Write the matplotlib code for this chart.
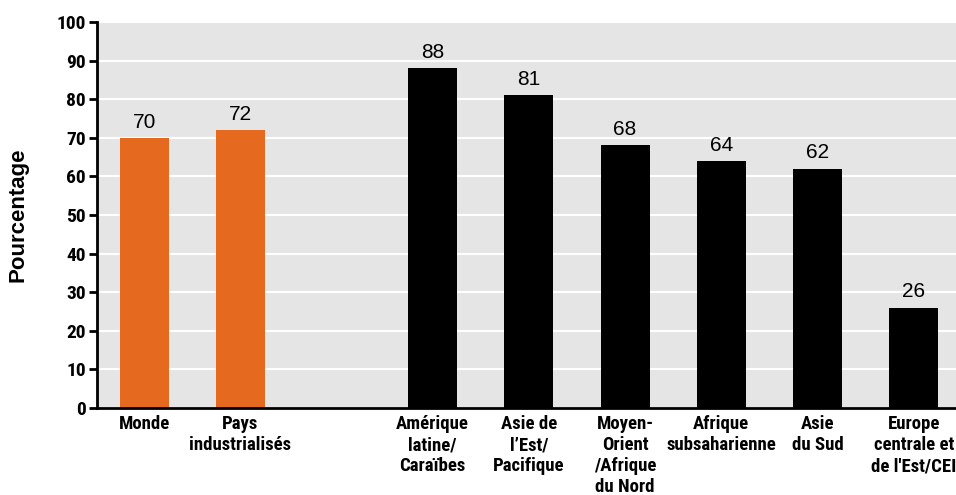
import matplotlib
matplotlib.use("Agg")
import matplotlib.pyplot as plt
from matplotlib import font_manager

# Data
categories = ["Monde", "Pays\nindustrialisés",
              "Amérique\nlatine/\nCaraïbes", "Asie de\nl\u2019Est/\nPacifique",
              "Moyen-\nOrient\n/Afrique\ndu Nord", "Afrique\nsubsaharienne",
              "Asie\ndu Sud", "Europe\ncentrale et\nde l'Est/CEI"]
values = [70, 72, 88, 81, 68, 64, 62, 26]
positions = [0, 1, 3, 4, 5, 6, 7, 8]
colors = ["#E5691F", "#E5691F", "black", "black", "black", "black", "black", "black"]
yticks = list(range(0, 101, 10))

# Pick a condensed sans face for the axis labels
candidates = ["Roboto Condensed", "Liberation Sans Narrow", "Archivo Narrow",
              "PT Sans Narrow", "Fira Sans Condensed", "Pragati Narrow",
              "Encode Sans Condensed", "Open Sans Condensed", "Asap Condensed",
              "Barlow Semi Condensed", "Barlow Condensed"]
entries = font_manager.fontManager.ttflist


def condensed(weight):
    for c in candidates:
        faces = [f for f in entries if f.name == c and "Italic" not in f.fname]
        exact = [f for f in faces if f.weight == weight]
        if exact:
            return font_manager.FontProperties(fname=exact[0].fname)
        if faces:
            return font_manager.FontProperties(family=c, weight=weight)
    return font_manager.FontProperties(family="DejaVu Sans", weight="bold")


bold_fp = condensed(700)
heavy_fp = condensed(800)


def fp(base, size):
    p = base.copy()
    p.set_size(size)
    return p


fig = plt.figure(figsize=(9.56, 4.95), dpi=100)
ax = fig.add_axes([0.1015, 0.1758, 0.8985, 0.7798])
ax.set_facecolor("#E5E5E5")

ax.bar(positions, values, width=0.51, color=colors, zorder=3)
for x, v in zip(positions, values):
    ax.text(x, v + 1.6, str(v), ha="center", va="bottom", fontsize=15,
            family="Liberation Sans", zorder=4)

ax.set_xlim(-0.49, 8.44)
ax.set_ylim(0, 100)
ax.set_yticks(yticks)
ax.set_yticklabels([str(t) for t in yticks], fontproperties=fp(heavy_fp, 14))
ax.set_xticks(positions)
ax.set_xticklabels(categories, fontproperties=fp(bold_fp, 13.5), linespacing=1.22,
                   va="top")
ax.tick_params(axis="x", length=0, pad=5)
ax.tick_params(axis="y", length=6, width=2, pad=2, direction="out")

ax.yaxis.grid(True, color="white", linewidth=1.5, zorder=1)
ax.set_axisbelow(True)
for s in ["top", "right"]:
    ax.spines[s].set_visible(False)
for s in ["left", "bottom"]:
    ax.spines[s].set_linewidth(2)
    ax.spines[s].set_color("black")
    ax.spines[s].set_zorder(5)

ax.set_ylabel("Pourcentage", family="Liberation Sans", fontweight="bold",
              fontsize=16, labelpad=20)

fig.savefig("out.png", dpi=100)
